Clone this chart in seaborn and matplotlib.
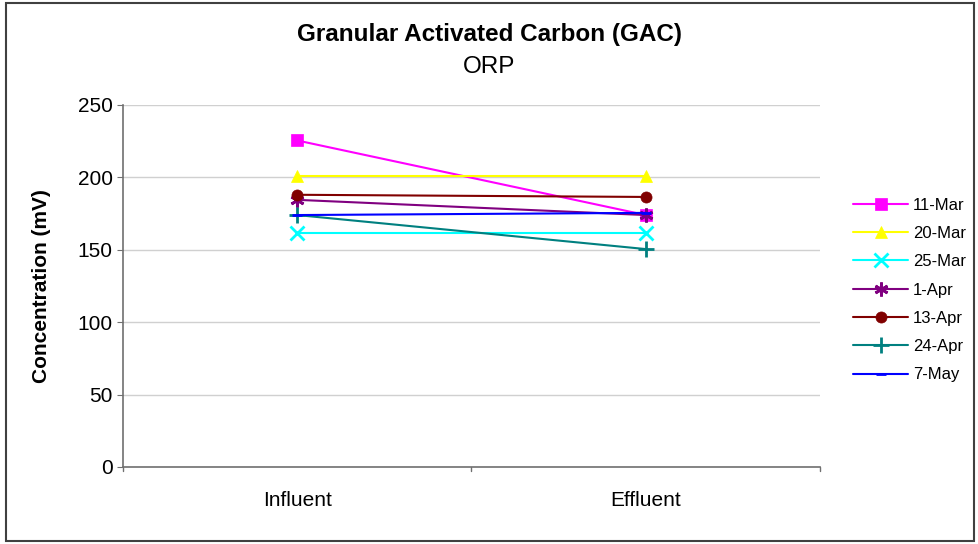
"""GAC ORP chart: influent vs effluent per sampling date."""
import matplotlib
matplotlib.use("Agg")
import matplotlib.pyplot as plt
import seaborn as sns
import pandas as pd
from matplotlib.patches import Rectangle

# data
locations = ["Influent", "Effluent"]
dates = ["11-Mar", "20-Mar", "25-Mar", "1-Apr", "13-Apr", "24-Apr", "7-May"]
influent = [225.5, 201, 161.5, 184.5, 188, 174, 174]
effluent = [174, 201, 161.5, 174, 186.5, 150.5, 175.5]

colors = ["#FF00FF", "#FFFF00", "#00FFFF", "#800080", "#800000", "#008080", "#0000FF"]
markers = ["s", "^", "x", (6, 2, 0), "o", "+", "_"]
msizes = [8, 9, 10, 10, 8, 11, 7]

sns.set_style("white")
plt.rcParams["font.family"] = ["Liberation Sans", "DejaVu Sans"]
plt.rcParams["text.color"] = "black"
plt.rcParams["axes.labelcolor"] = "black"

fig = plt.figure(figsize=(9.79, 5.44), dpi=100)
ax = fig.add_axes([123 / 979, 1 - 467 / 544, (820 - 123) / 979, (467 - 105) / 544])

for i, d in enumerate(dates):
    df = pd.DataFrame({"loc": locations, "val": [influent[i], effluent[i]]})
    sns.lineplot(data=df, x="loc", y="val", ax=ax, color=colors[i],
                 marker=markers[i], markersize=msizes[i], linewidth=1.5,
                 markeredgewidth=2 if markers[i] in ("x", "+", "_") or i == 3 else 0.5,
                 markeredgecolor=colors[i], label=d, sort=False)

ax.set_xlim(-0.5, 1.5)
ax.set_ylim(0, 250)
ax.set_yticks(range(0, 251, 50))
ax.grid(axis="y", color="#d0d0d0", linewidth=1)
ax.set_axisbelow(True)
ax.set_xlabel("")
ax.set_ylabel("Concentration (mV)", fontsize=15, fontweight="bold", labelpad=19)
ax.tick_params(axis="both", labelsize=15, length=4, color="#707070", labelcolor="black",
               direction="out", bottom=False, left=True)
ax.tick_params(axis="x", pad=13)
# category-boundary ticks on x axis
for xb in (-0.5, 0.5, 1.5):
    ax.plot([xb, xb], [0, -3], color="#707070", lw=1, clip_on=False)
for s in ("top", "right"):
    ax.spines[s].set_visible(False)
for s in ("left", "bottom"):
    ax.spines[s].set_color("#707070")
    ax.spines[s].set_linewidth(1.2)

fig.text(0.5, 1 - 34 / 544, "Granular Activated Carbon (GAC)", ha="center", va="center",
         fontsize=17.5, fontweight="bold")
fig.text(0.5, 1 - 67 / 544, "ORP", ha="center", va="center", fontsize=17.5)

ax.legend(loc="center left", bbox_to_anchor=(838 / 979, 1 - 290 / 544),
          bbox_transform=fig.transFigure, frameon=False, fontsize=12,
          handlelength=3.3, labelspacing=0.8, handletextpad=0.3)

fig.patches.append(Rectangle((6 / 979, 3 / 544), 968 / 979, 538 / 544, transform=fig.transFigure,
                             fill=False, edgecolor="#404040", linewidth=1.5))

fig.savefig("out.png", dpi=100)
